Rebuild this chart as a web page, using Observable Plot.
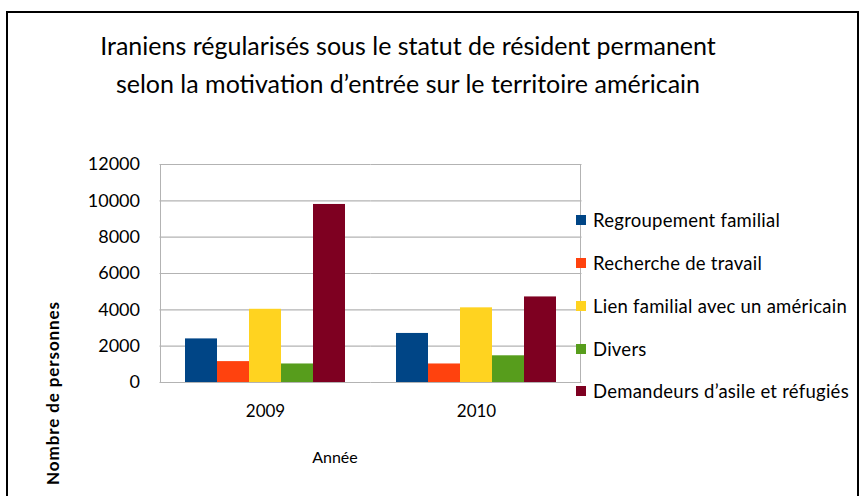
<!DOCTYPE html>
<html><head><meta charset="utf-8">
<script src="https://cdn.jsdelivr.net/npm/d3@7"></script>
<script src="https://cdn.jsdelivr.net/npm/@observablehq/plot@0.6"></script>
<style>
body{margin:0;background:#fff;}
#wrap{position:relative;width:861px;height:496px;overflow:hidden;font-family:Lato,"Open Sans",sans-serif;color:#000;background:#fff;}
#border{position:absolute;left:6px;top:11px;width:849px;height:600px;border:2px solid #000;}
#title{position:absolute;left:0;top:26px;width:816px;text-align:center;font-size:25px;line-height:38px;}
#plot{position:absolute;left:0;top:0;}
#frame{position:absolute;left:160px;top:164px;width:421px;height:218px;border-left:1px solid #b3b3b3;border-right:1px solid #b3b3b3;box-sizing:border-box;}
#ylabel{position:absolute;left:52px;top:393px;transform:translate(-50%,-50%) rotate(-90deg);font-size:17px;letter-spacing:0.9px;font-weight:bold;white-space:nowrap;}
#xlabel{position:absolute;left:335px;top:456px;transform:translate(-50%,-50%);font-size:16px;white-space:nowrap;}
#legend{position:absolute;left:576px;top:199px;font-size:18.5px;letter-spacing:0.25px;}
.row{height:42.75px;display:flex;align-items:center;white-space:nowrap;}
.sw{width:10px;height:10px;margin-right:7px;flex:none;}
</style>
</head><body>
<div id="wrap">
  <div id="border"></div>
  <div id="title">Iraniens régularisés sous le statut de résident permanent<br>selon la motivation d’entrée sur le territoire américain</div>
  <div id="frame"></div>
  <div id="plot"></div>
  <div id="ylabel">Nombre de personnes</div>
  <div id="xlabel">Année</div>
  <div id="legend"></div>
</div>
<script>
const years = ["2009", "2010"];
const series = ["Regroupement familial", "Recherche de travail", "Lien familial avec un américain", "Divers", "Demandeurs d’asile et réfugiés"];
const values2009 = [2400, 1150, 4030, 1020, 9800];
const values2010 = [2700, 1020, 4110, 1470, 4710];
const colors = ["#004586", "#ff420e", "#ffd320", "#579d1c", "#7e0021"];
const yTicks = [0, 2000, 4000, 6000, 8000, 10000, 12000];

const valuesByYear = [values2009, values2010];
const data = years.flatMap((yr, i) => series.map((s, j) => ({year: yr, series: s, value: valuesByYear[i][j]})));

const chart = Plot.plot({
  width: 861,
  height: 496,
  marginLeft: 160,
  marginRight: 279,
  marginTop: 164,
  marginBottom: 114,
  style: {background: "transparent", fontFamily: "Lato, 'Open Sans', sans-serif", fontSize: "17px", color: "#000", overflow: "visible"},
  fx: {domain: years, paddingInner: 0.232, paddingOuter: 0.116, label: null, tickSize: 0, tickPadding: 22},
  x: {domain: series, padding: 0, axis: null},
  y: {domain: [0, 12000], ticks: yTicks, tickFormat: d => String(d), tickSize: 0, tickPadding: 44.5, label: null},
  color: {domain: series, range: colors},
  marks: [
    Plot.ruleY(yTicks, {stroke: "#b3b3b3", strokeWidth: 1.2, insetLeft: -24.5, insetRight: -24.5}),
    Plot.barY(data, {fx: "year", x: "series", y: "value", fill: "series"})
  ]
});
chart.querySelectorAll("g[aria-label='y-axis tick label'] text, g[aria-label='y-axis'] text").forEach(t => t.style.fontSize = "18px");
document.getElementById("plot").appendChild(chart);

const legend = document.getElementById("legend");
series.forEach((s, i) => {
  const row = document.createElement("div");
  row.className = "row";
  const sw = document.createElement("span");
  sw.className = "sw";
  sw.style.background = colors[i];
  const t = document.createElement("span");
  t.textContent = s;
  row.appendChild(sw);
  row.appendChild(t);
  legend.appendChild(row);
});
</script>
</body></html>
